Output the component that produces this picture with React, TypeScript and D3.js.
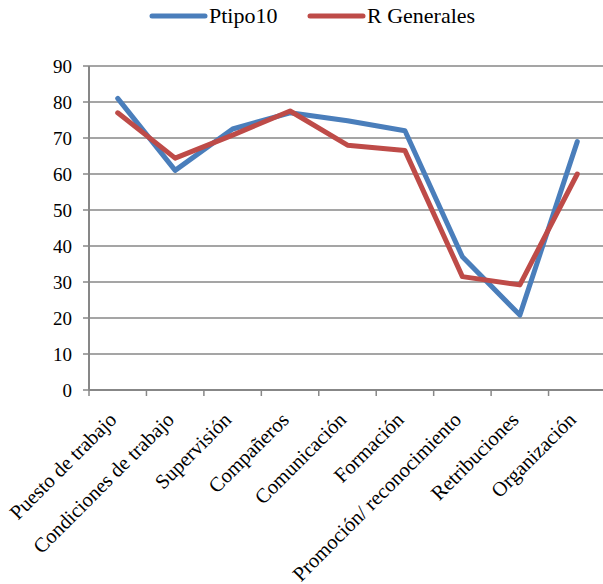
import React from "react";
import * as d3 from "d3";

const categories = [
  "Puesto de trabajo",
  "Condiciones de trabajo",
  "Supervisión",
  "Compañeros",
  "Comunicación",
  "Formación",
  "Promoción/ reconocimiento",
  "Retribuciones",
  "Organización",
];
const ptipo10 = [81, 61, 72.5, 77, 74.8, 72, 37, 20.8, 69];
const rGenerales = [77, 64.4, 70.8, 77.5, 68, 66.5, 31.5, 29.2, 60];
const yTicks = [0, 10, 20, 30, 40, 50, 60, 70, 80, 90];
const seriesNames = ["Ptipo10", "R Generales"];
const colors = ["#4A7EBB", "#BE4B48"];

const W = 603;
const H = 584;
const left = 89;
const right = 606;
const top = 66;
const bottom = 390;
const FONT = "Liberation Serif, Tinos, Times New Roman, DejaVu Serif, serif";

export default function App() {
  const x = d3.scaleBand<string>().domain(categories).range([left, right]);
  const y = d3.scaleLinear().domain([0, 90]).range([bottom, top]);
  const line = d3
    .line<number>()
    .x((_, i) => (x(categories[i]) as number) + x.bandwidth() / 2)
    .y((d) => y(d));
  const series = [ptipo10, rGenerales];
  const tickXs = categories.map((c) => x(c) as number);

  return (
    <svg
      width={W}
      height={H}
      style={{ position: "absolute", left: 0, top: 0, background: "#fff", fontFamily: FONT }}
    >
      {yTicks.map((t) => (
        <g key={t}>
          {t > 0 && (
            <line x1={left} x2={right} y1={y(t)} y2={y(t)} stroke="#878787" strokeWidth={1.5} />
          )}
          <line x1={left - 6} x2={left} y1={y(t)} y2={y(t)} stroke="#878787" strokeWidth={1.5} />
          <text x={72} y={y(t)} dy="0.35em" textAnchor="end" fontSize={19} fill="#000" style={{ fontFamily: FONT }}>
            {t}
          </text>
        </g>
      ))}
      <line x1={left} x2={left} y1={top} y2={bottom} stroke="#878787" strokeWidth={2} />
      <line x1={left} x2={right} y1={bottom} y2={bottom} stroke="#878787" strokeWidth={2} />
      {tickXs.map((tx, i) => (
        <line key={i} x1={tx} x2={tx} y1={bottom} y2={bottom + 6} stroke="#878787" strokeWidth={1.5} />
      ))}
      {categories.map((c) => {
        const cx = (x(c) as number) + x.bandwidth() / 2;
        return (
          <text
            key={c}
            transform={`translate(${cx},${bottom + 31}) rotate(-45)`}
            textAnchor="end"
            fontSize={20.5}
            fill="#000"
            style={{ fontFamily: FONT }}
          >
            {c}
          </text>
        );
      })}
      {series.map((s, i) => (
        <path
          key={i}
          d={line(s) as string}
          fill="none"
          stroke={colors[i]}
          strokeWidth={5}
          strokeLinejoin="round"
          strokeLinecap="round"
        />
      ))}
      {seriesNames.map((n, i) => {
        const lx = i === 0 ? 152 : 310;
        return (
          <g key={n}>
            <line x1={lx} x2={lx + 53} y1={16} y2={16} stroke={colors[i]} strokeWidth={5} strokeLinecap="round" />
            <text x={lx + 57} y={23} fontSize={22} fill="#000" style={{ fontFamily: FONT }}>
              {n}
            </text>
          </g>
        );
      })}
    </svg>
  );
}
